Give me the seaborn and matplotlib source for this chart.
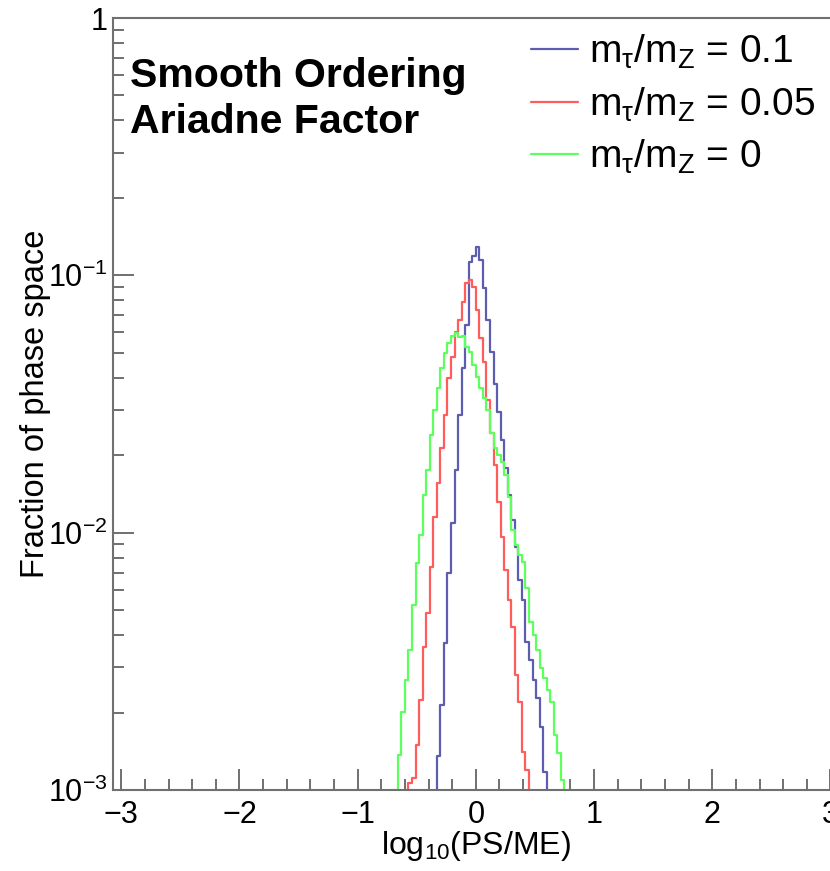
import numpy as np
import pandas as pd
import matplotlib
matplotlib.use("Agg")
import matplotlib.pyplot as plt
import seaborn as sns
from matplotlib.ticker import MultipleLocator, LogLocator, NullFormatter, FixedLocator, FixedFormatter

# histogram binning: 0.03 wide bins, left edge of first filled bin per series
bin_width = 0.03

labels = [
    r"m$_\mathregular{τ}$/m$_\mathregular{Z}$ = 0.1",
    r"m$_\mathregular{τ}$/m$_\mathregular{Z}$ = 0.05",
    r"m$_\mathregular{τ}$/m$_\mathregular{Z}$ = 0",
]
colors = ["#5c5cb0", "#ff5c5c", "#5cff5c"]

# m_tau/m_Z = 0.1
start_01 = -0.33
frac_01 = [1.35e-3, 2.14e-3, 3.72e-3, 6.95e-3, 1.09e-2, 1.75e-2, 2.86e-2, 4.36e-2,
           6.41e-2, 0.113, 0.119, 0.129, 0.115, 8.93e-2, 6.71e-2, 5.04e-2,
           3.78e-2, 2.94e-2, 2.29e-2, 1.78e-2, 1.40e-2, 1.12e-2, 8.83e-3, 6.55e-3,
           5.47e-3, 3.77e-3, 3.20e-3, 2.68e-3, 2.27e-3, 1.76e-3, 1.18e-3]

# m_tau/m_Z = 0.05
start_005 = -0.57
frac_005 = [1.06e-3, 1.11e-3, 1.50e-3, 2.24e-3, 3.61e-3, 4.86e-3, 7.38e-3, 1.15e-2,
            1.56e-2, 2.13e-2, 2.86e-2, 3.98e-2, 4.83e-2, 6.04e-2, 6.71e-2, 7.91e-2,
            9.31e-2, 9.60e-2, 9.03e-2, 7.35e-2, 5.70e-2, 4.62e-2, 3.28e-2, 2.44e-2,
            1.83e-2, 1.32e-2, 9.65e-3, 7.16e-3, 5.47e-3, 4.31e-3, 2.80e-3, 2.20e-3,
            1.41e-3, 1.20e-3]

# m_tau/m_Z = 0
start_0 = -0.66
frac_0 = [1.37e-3, 2.01e-3, 2.68e-3, 3.50e-3, 5.24e-3, 7.62e-3, 9.80e-3, 1.40e-2,
          1.75e-2, 2.40e-2, 3.00e-2, 3.65e-2, 4.36e-2, 4.99e-2, 5.45e-2, 5.81e-2,
          5.97e-2, 5.76e-2, 5.80e-2, 5.28e-2, 5.05e-2, 4.49e-2, 4.04e-2, 3.65e-2,
          3.33e-2, 3.00e-2, 2.44e-2, 2.13e-2, 2.00e-2, 1.88e-2, 1.68e-2, 1.38e-2,
          1.02e-2, 8.95e-3, 8.19e-3, 7.71e-3, 6.10e-3, 4.51e-3, 4.00e-3, 3.50e-3,
          2.98e-3, 2.72e-3, 2.45e-3, 2.20e-3, 1.64e-3, 1.39e-3, 1.09e-3]

y_ticks = [1e-3, 1e-2, 1e-1, 1]
y_ticklabels = [r"10$^{\mathregular{-3}}$", r"10$^{\mathregular{-2}}$", r"10$^{\mathregular{-1}}$", "1"]

sns.set_style("ticks")
plt.rcParams["font.family"] = ["Liberation Sans", "DejaVu Sans"]
plt.rcParams["mathtext.fontset"] = "custom"
plt.rcParams["mathtext.rm"] = "Liberation Sans"
plt.rcParams["mathtext.it"] = "Liberation Sans:italic"
plt.rcParams["mathtext.bf"] = "Liberation Sans:bold"
plt.rcParams["text.color"] = "black"
plt.rcParams["axes.labelcolor"] = "black"
plt.rcParams["xtick.labelcolor"] = "black"
plt.rcParams["ytick.labelcolor"] = "black"

fig = plt.figure(figsize=(8.3, 8.71), dpi=100)
ax = fig.add_axes([113 / 830, 81 / 871, 725.7 / 830, 772 / 871])

series = [(start_01, frac_01), (start_005, frac_005), (start_0, frac_0)]
for (start, frac), color, label in zip(series, colors, labels):
    n = len(frac)
    centers = start + bin_width * (np.arange(n) + 0.5)
    edges = (start + bin_width * np.arange(-1, n + 2)).tolist()
    df = pd.DataFrame({"x": centers, "w": frac})
    sns.histplot(df, x="x", weights="w", bins=edges, element="step", fill=False,
                 color=color, linewidth=1.6, label=label, ax=ax)

ax.set_yscale("log")
ax.set_xlim(-3.07, 3.07)
ax.set_ylim(1e-3, 1)

spine_col = "#707070"
for s in ax.spines.values():
    s.set_color(spine_col)
    s.set_linewidth(1.5)

ax.xaxis.set_major_locator(MultipleLocator(1))
ax.xaxis.set_minor_locator(MultipleLocator(0.2))
ax.yaxis.set_major_locator(FixedLocator(y_ticks))
ax.yaxis.set_major_formatter(FixedFormatter(y_ticklabels))
ax.yaxis.set_minor_locator(LogLocator(base=10, subs=np.arange(2, 10)))
ax.yaxis.set_minor_formatter(NullFormatter())
ax.tick_params(which="both", direction="in", color=spine_col, width=1.4,
               top=False, right=False)
ax.tick_params(which="major", length=15)
ax.tick_params(which="minor", length=8)
ax.tick_params(axis="x", which="major", labelsize=22, pad=7.5)
ax.tick_params(axis="y", which="major", labelsize=22, pad=4)

ax.set_xlabel(r"log$_\mathregular{10}$(PS/ME)", fontsize=23)
ax.set_ylabel("Fraction of phase space", fontsize=23.5)
ax.xaxis.set_label_coords(0.5, -0.051)
ax.yaxis.set_label_coords(-0.085, 0.5)

fig.text(130 / 830, 1 - 87 / 871, "Smooth Ordering", fontsize=29.5, fontweight="bold",
         va="baseline", ha="left")
fig.text(130 / 830, 1 - 133 / 871, "Ariadne Factor", fontsize=29.5, fontweight="bold",
         va="baseline", ha="left")

ax.legend(loc="upper left", bbox_to_anchor=(531 / 830, 1 - 33 / 871),
          bbox_transform=fig.transFigure, frameon=False, fontsize=28,
          handlelength=1.2, handletextpad=0.3, labelspacing=0.36,
          borderpad=0, borderaxespad=0)

fig.savefig("out.png", dpi=100)
